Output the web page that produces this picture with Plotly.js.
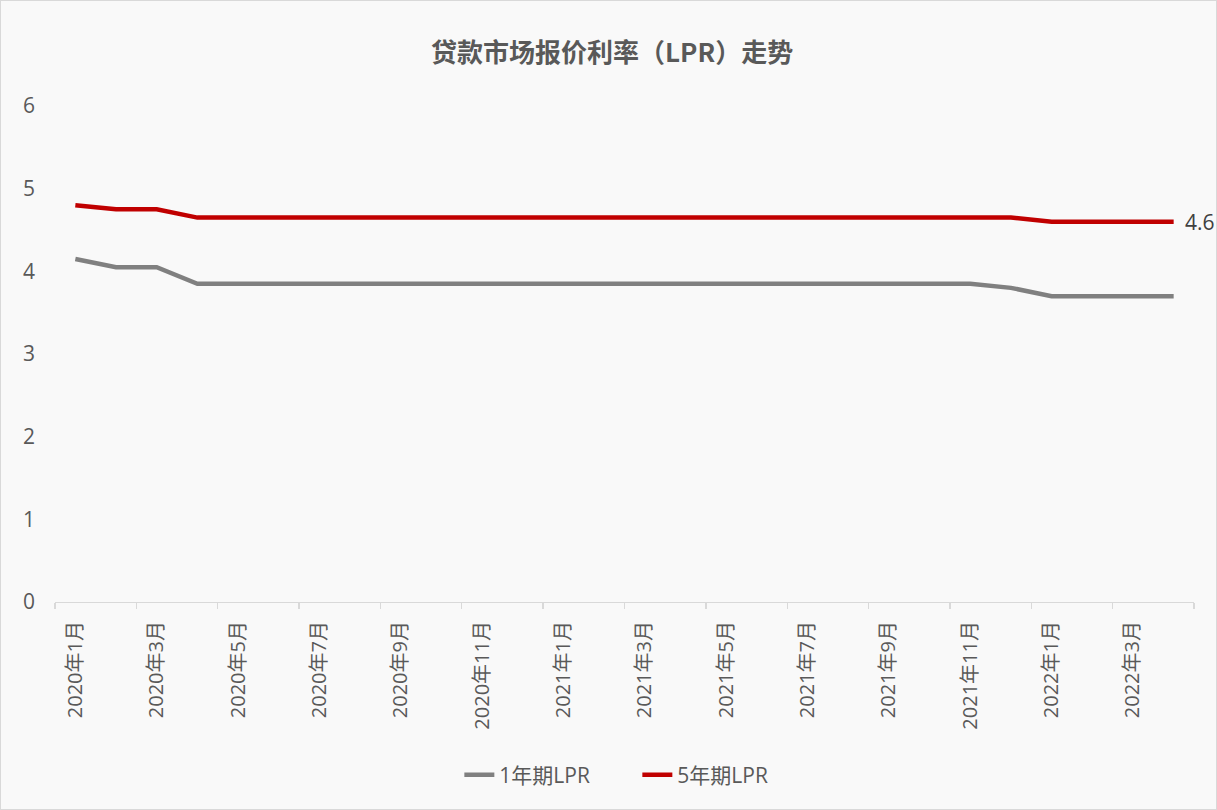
<!DOCTYPE html>
<html>
<head>
<meta charset="utf-8">
<script src="https://cdn.plot.ly/plotly-3.0.1.min.js"></script>
<style>
html,body{margin:0;padding:0;background:#f9f9f9;}
#wrap{width:1215px;height:808px;border:1px solid #d9d9d9;background:#f9f9f9;}
#chart{width:1215px;height:808px;}
</style>
</head>
<body>
<div id="wrap"><div id="chart"></div></div>
<script>
const months = [
  '2020年1月','2020年2月','2020年3月','2020年4月','2020年5月','2020年6月','2020年7月','2020年8月','2020年9月','2020年10月','2020年11月','2020年12月',
  '2021年1月','2021年2月','2021年3月','2021年4月','2021年5月','2021年6月','2021年7月','2021年8月','2021年9月','2021年10月','2021年11月','2021年12月',
  '2022年1月','2022年2月','2022年3月','2022年4月'
];
const lpr1y = [4.15,4.05,4.05,3.85,3.85,3.85,3.85,3.85,3.85,3.85,3.85,3.85,
               3.85,3.85,3.85,3.85,3.85,3.85,3.85,3.85,3.85,3.85,3.85,3.80,
               3.70,3.70,3.70,3.70];
const lpr5y = [4.80,4.75,4.75,4.65,4.65,4.65,4.65,4.65,4.65,4.65,4.65,4.65,
               4.65,4.65,4.65,4.65,4.65,4.65,4.65,4.65,4.65,4.65,4.65,4.65,
               4.60,4.60,4.60,4.60];
const seriesNames = ['1年期LPR','5年期LPR'];
const shownTicks = months.filter((m,i)=>i%2===0);
const boundaryTicks = [];
for(let i=0;i<=months.length;i+=2){ boundaryTicks.push(i-0.5); }

const font = '"Open Sans","Noto Sans CJK SC",sans-serif';
const lastIdx = months.length-1;

const traces = [
  {x: months, y: lpr1y, name: seriesNames[0], type:'scatter', mode:'lines',
   line:{color:'#808080', width:4.5}, hoverinfo:'x+y'},
  {x: months, y: lpr5y, name: seriesNames[1], type:'scatter', mode:'lines',
   line:{color:'#c00000', width:4.5}, hoverinfo:'x+y'},
  {x:[-0.5,27.5], y:[0,0], xaxis:'x2', yaxis:'y', mode:'lines', line:{width:0,color:'rgba(0,0,0,0)'},
   showlegend:false, hoverinfo:'skip'}
];

const layout = {
  width:1215, height:808,
  paper_bgcolor:'#f9f9f9', plot_bgcolor:'#f9f9f9',
  margin:{l:54, r:22, t:105, b:207},
  title:{text:'<b>贷款市场报价利率（LPR）走势</b>', x:0.503, xanchor:'center', y:1-52/808, yref:'container', yanchor:'middle',
         font:{family:'"Noto Sans CJK SC",sans-serif', size:26, color:'#595959'}},
  showlegend:true,
  legend:{orientation:'h', x:0.355, xanchor:'left', xref:'paper', y:1-774/808, yref:'container', yanchor:'middle',
          font:{family:font, size:21, color:'#595959'}, bgcolor:'rgba(0,0,0,0)',
          entrywidth:133, entrywidthmode:'pixels'},
  annotations:[{x: months[lastIdx], y: lpr5y[lastIdx], xref:'x', yref:'y', text: String(lpr5y[lastIdx]),
                showarrow:false, xanchor:'left', yanchor:'middle', xshift:9,
                font:{family:font, size:21, color:'#404040'}}],
  xaxis:{type:'category', range:[-0.5, 27.5], tickmode:'array', tickvals: shownTicks, ticktext: shownTicks,
         tickangle:-90, ticks:'', showgrid:false, zeroline:false, showline:false, ticklabelstandoff:14,
         tickfont:{family:font, size:20, color:'#595959'}, fixedrange:true},
  xaxis2:{overlaying:'x', anchor:'y', side:'bottom', type:'linear', range:[-0.5,27.5],
          tickmode:'array', tickvals: boundaryTicks, ticks:'outside', ticklen:6, tickwidth:1.3, tickcolor:'#d9d9d9',
          showticklabels:false, showgrid:false, zeroline:false, showline:true, linecolor:'#d9d9d9', linewidth:1.3},
  yaxis:{range:[0,6], tickvals:[0,1,2,3,4,5,6], showgrid:false, zeroline:false, showline:false, ticks:'',
         tickfont:{family:font, size:21, color:'#595959'}, ticklabelstandoff:19}
};

Plotly.newPlot('chart', traces, layout, {displayModeBar:false, staticPlot:true});
</script>
</body>
</html>
